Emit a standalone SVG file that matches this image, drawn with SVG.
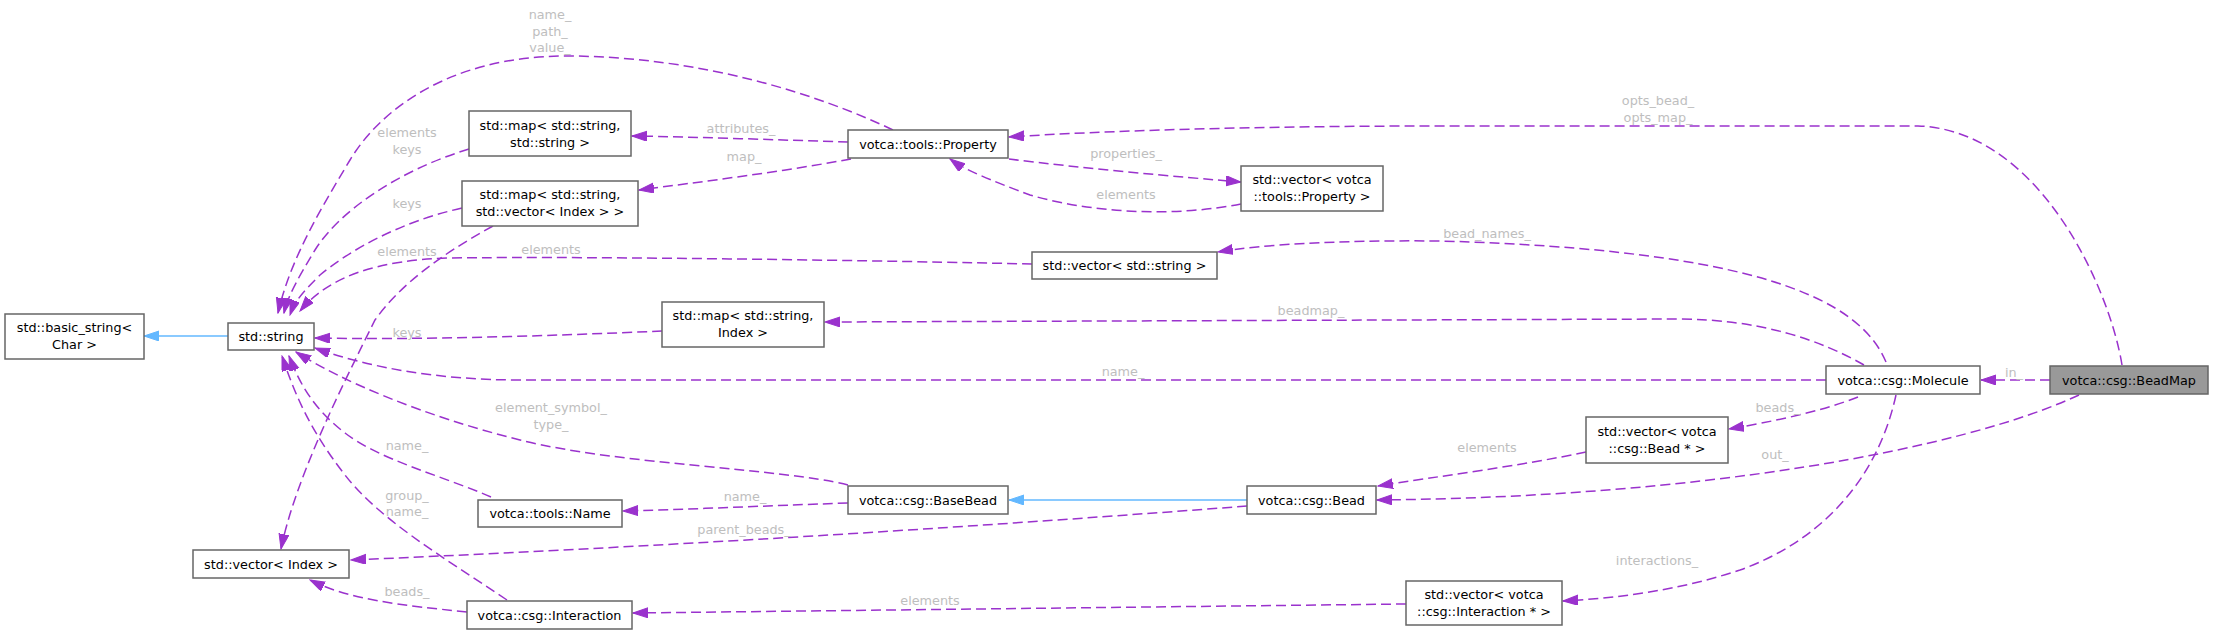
<svg xmlns="http://www.w3.org/2000/svg" width="2213" height="634" viewBox="0 0 2213 634">
<defs>
<style>
.n rect{fill:#fff;stroke:#666;stroke-width:1.5}
.n text{font-family:"DejaVu Sans",sans-serif;font-size:12.8px;fill:#000;text-anchor:middle}
.e path{fill:none;stroke:#9a32cd;stroke-width:1.5;stroke-dasharray:10,5}
.e path.inh{stroke:#63b8ff;stroke-dasharray:none}
.lbl{font-family:"DejaVu Sans",sans-serif;font-size:12.8px;fill:#bebebe;text-anchor:middle}
</style>
<marker id="a" markerUnits="userSpaceOnUse" markerWidth="16" markerHeight="12" refX="15" refY="5" orient="auto">
<path d="M0,0 L15,5 L0,10 z" fill="#9a32cd" stroke="#9a32cd" stroke-width="1"/>
</marker>
<marker id="b" markerUnits="userSpaceOnUse" markerWidth="16" markerHeight="12" refX="15" refY="5" orient="auto">
<path d="M0,0 L15,5 L0,10 z" fill="#63b8ff" stroke="#63b8ff" stroke-width="1"/>
</marker>
</defs>
<rect width="2213" height="634" fill="#fff"/>
<g id="edges" class="e">
<path marker-end="url(#a)" d="M2050,380 L1981,380"/>
<path marker-end="url(#a)" d="M2122,365 C2110,290 2040,130 1918,126 L1440,126 C1250,126 1100,131 1009,137"/>
<path marker-end="url(#a)" d="M2079,395 C1960,450 1700,497 1377,500"/>
<path marker-end="url(#a)" d="M1886,362 C1860,300 1760,250 1440,241 C1330,240 1260,245 1218,252"/>
<path marker-end="url(#a)" d="M1864,365 C1820,340 1760,319 1677,319 L825,322"/>
<path marker-end="url(#a)" d="M1826,380 L520,380 C440,380 370,368 315,348"/>
<path marker-end="url(#a)" d="M1858,397 C1820,412 1770,422 1729,429"/>
<path marker-end="url(#a)" d="M1896,395 C1875,490 1810,545 1740,570 C1680,590 1620,598 1563,601"/>
<path marker-end="url(#a)" d="M1586,452 C1520,466 1440,476 1378,486"/>
<path class="inh" marker-end="url(#b)" d="M1247,500 L1009,500"/>
<path marker-end="url(#a)" d="M1247,506 C1000,525 700,545 351,560"/>
<path marker-end="url(#a)" d="M848,503 C760,506 700,509 623,511"/>
<path marker-end="url(#a)" d="M848,485 C780,468 620,465 520,440 C420,415 340,380 296,352"/>
<path marker-end="url(#a)" d="M491,497 C440,475 380,460 345,433 C315,410 300,385 289,356"/>
<path marker-end="url(#a)" d="M507,600 C440,555 380,520 345,475 C310,430 295,395 282,356"/>
<path marker-end="url(#a)" d="M467,612 C400,605 350,600 310,580"/>
<path marker-end="url(#a)" d="M1406,604 L633,613"/>
<path marker-end="url(#a)" d="M848,142 C780,140 700,137 632,136"/>
<path marker-end="url(#a)" d="M851,159 C780,172 700,182 639,190"/>
<path marker-end="url(#a)" d="M1009,159 C1080,168 1180,177 1241,182"/>
<path marker-end="url(#a)" d="M1241,204 C1180,216 1100,215 1030,195 C990,180 965,170 950,159"/>
<path marker-end="url(#a)" d="M893,130 C820,95 700,56 566,56 C450,56 380,110 350,160 C320,210 290,260 278,313"/>
<path marker-end="url(#a)" d="M469,149 C400,170 340,210 315,250 C300,275 288,295 284,313"/>
<path marker-end="url(#a)" d="M462,208 C400,222 350,250 320,275 C305,290 295,300 290,315"/>
<path marker-end="url(#a)" d="M493,226 C440,255 400,285 375,320 C340,390 295,480 281,549"/>
<path marker-end="url(#a)" d="M1032,264 C900,261 600,256 450,258 C380,260 330,275 300,311"/>
<path marker-end="url(#a)" d="M662,331 C550,336 420,340 315,338"/>
<path class="inh" marker-end="url(#b)" d="M228,336 L144,336"/>
</g>
<g id="labels">
<text class="lbl" x="550" y="19">name_</text>
<text class="lbl" x="550" y="36">path_</text>
<text class="lbl" x="550" y="52">value_</text>
<text class="lbl" x="407" y="137">elements</text>
<text class="lbl" x="407" y="154">keys</text>
<text class="lbl" x="407" y="208">keys</text>
<text class="lbl" x="407" y="256">elements</text>
<text class="lbl" x="551" y="254">elements</text>
<text class="lbl" x="741" y="133">attributes_</text>
<text class="lbl" x="744" y="161">map_</text>
<text class="lbl" x="1126" y="158">properties_</text>
<text class="lbl" x="1126" y="199">elements</text>
<text class="lbl" x="1487" y="238">bead_names_</text>
<text class="lbl" x="1658" y="105">opts_bead_</text>
<text class="lbl" x="1658" y="122">opts_map_</text>
<text class="lbl" x="1311" y="315">beadmap_</text>
<text class="lbl" x="407" y="337">keys</text>
<text class="lbl" x="1123" y="376">name_</text>
<text class="lbl" x="2014" y="377">in_</text>
<text class="lbl" x="551" y="412">element_symbol_</text>
<text class="lbl" x="551" y="429">type_</text>
<text class="lbl" x="1778" y="412">beads_</text>
<text class="lbl" x="407" y="450">name_</text>
<text class="lbl" x="1487" y="452">elements</text>
<text class="lbl" x="1775" y="459">out_</text>
<text class="lbl" x="407" y="500">group_</text>
<text class="lbl" x="407" y="516">name_</text>
<text class="lbl" x="745" y="501">name_</text>
<text class="lbl" x="744" y="534">parent_beads_</text>
<text class="lbl" x="1657" y="565">interactions_</text>
<text class="lbl" x="930" y="605">elements</text>
<text class="lbl" x="407" y="596">beads_</text>
</g>
<g id="n_basic_string" class="n"><rect x="5" y="314" width="139" height="45"/><text x="74.5" y="332">std::basic_string&lt;</text><text x="74.5" y="349">Char &gt;</text></g>
<g id="n_string" class="n"><rect x="228" y="323" width="86" height="27"/><text x="271" y="341">std::string</text></g>
<g id="n_vector_index" class="n"><rect x="193" y="550" width="156" height="28"/><text x="271" y="568.5">std::vector&lt; Index &gt;</text></g>
<g id="n_map_ss" class="n"><rect x="469" y="111" width="162" height="45"/><text x="550" y="129.5">std::map&lt; std::string,</text><text x="550" y="146.5">std::string &gt;</text></g>
<g id="n_map_svi" class="n"><rect x="462" y="181" width="176" height="45"/><text x="550" y="199">std::map&lt; std::string,</text><text x="550" y="216">std::vector&lt; Index &gt; &gt;</text></g>
<g id="n_property" class="n"><rect x="848" y="130" width="160" height="28"/><text x="928" y="148.5">votca::tools::Property</text></g>
<g id="n_vector_property" class="n"><rect x="1241" y="166" width="142" height="45"/><text x="1312" y="184">std::vector&lt; votca</text><text x="1312" y="201">::tools::Property &gt;</text></g>
<g id="n_vector_string" class="n"><rect x="1032" y="252" width="185" height="27"/><text x="1124.5" y="270">std::vector&lt; std::string &gt;</text></g>
<g id="n_map_si" class="n"><rect x="662" y="302" width="162" height="45"/><text x="743" y="320">std::map&lt; std::string,</text><text x="743" y="337">Index &gt;</text></g>
<g id="n_name" class="n"><rect x="478" y="500" width="144" height="27"/><text x="550" y="518">votca::tools::Name</text></g>
<g id="n_interaction" class="n"><rect x="467" y="601" width="165" height="28"/><text x="549.5" y="619.5">votca::csg::Interaction</text></g>
<g id="n_basebead" class="n"><rect x="848" y="486" width="160" height="28"/><text x="928" y="504.5">votca::csg::BaseBead</text></g>
<g id="n_bead" class="n"><rect x="1247" y="486" width="129" height="28"/><text x="1311.5" y="504.5">votca::csg::Bead</text></g>
<g id="n_vector_bead" class="n"><rect x="1586" y="417" width="142" height="46"/><text x="1657" y="436">std::vector&lt; votca</text><text x="1657" y="453">::csg::Bead * &gt;</text></g>
<g id="n_vector_interaction" class="n"><rect x="1406" y="581" width="156" height="44"/><text x="1484" y="599">std::vector&lt; votca</text><text x="1484" y="616">::csg::Interaction * &gt;</text></g>
<g id="n_molecule" class="n"><rect x="1826" y="366" width="154" height="28"/><text x="1903" y="384.5">votca::csg::Molecule</text></g>
<g id="n_beadmap" class="n"><rect x="2050" y="366" width="158" height="28" style="fill:#999"/><text x="2129" y="384.5">votca::csg::BeadMap</text></g>
</svg>
